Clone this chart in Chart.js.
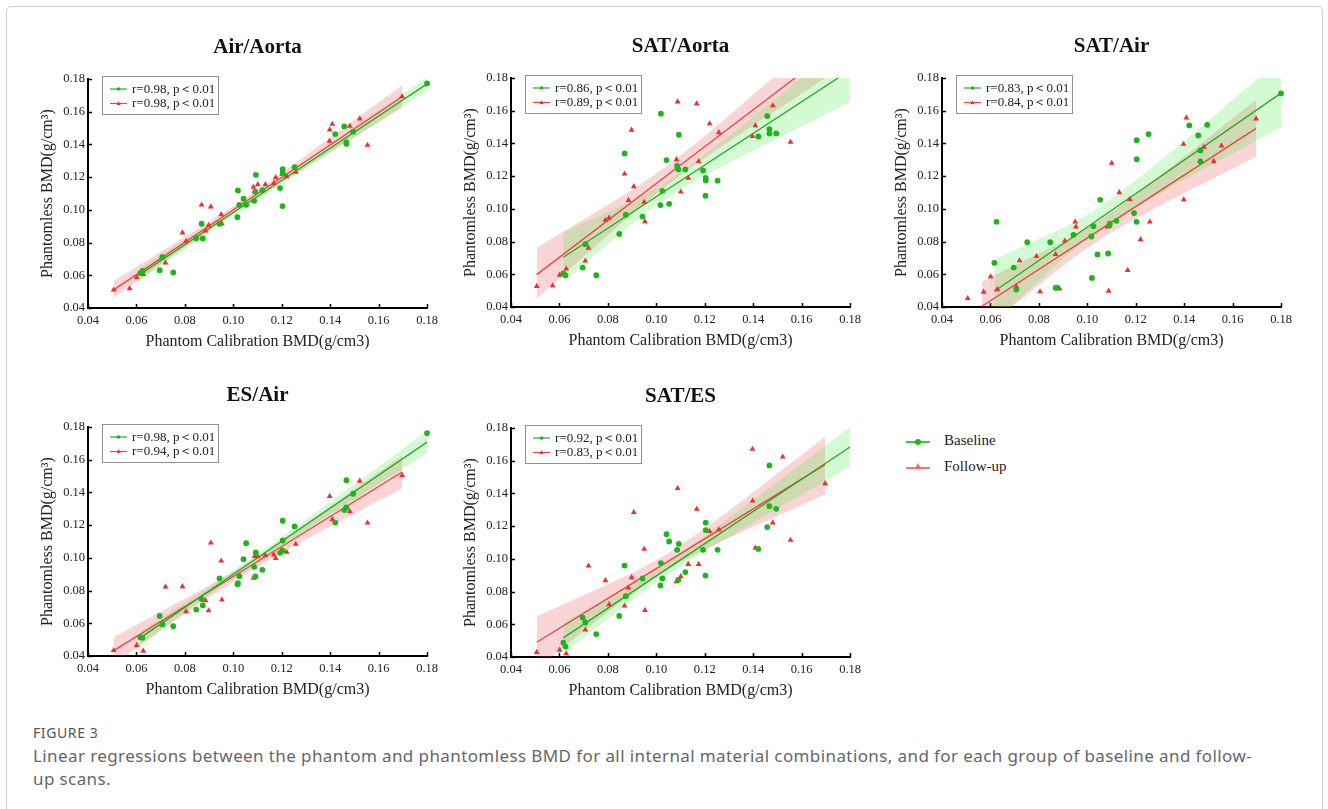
<!DOCTYPE html>
<html>
<head>
<meta charset="utf-8">
<script src="https://cdn.jsdelivr.net/npm/chart.js@4.4.0/dist/chart.umd.min.js"></script>
<style>
  html, body { margin: 0; padding: 0; background: #fff; }
  body { width: 1328px; height: 809px; position: relative; overflow: hidden; }
  .frame { position: absolute; left: 6px; top: 6px; width: 1315px; height: 840px;
           border: 1px solid #d2d2d2; border-radius: 5px; }
  canvas.panel { position: absolute; }
  .key { position: absolute; left: 906px; font: 15px "Liberation Serif", serif; color: #222; }
  .key .ln { position: absolute; left: 0; top: 0; width: 24px; height: 2px; }
  .key .txt { position: absolute; left: 38px; top: -9px; white-space: nowrap; }
  .dot { position: absolute; left: 9px; top: -2px; width: 6px; height: 6px; border-radius: 50%; }
  .tri { position: absolute; left: 9px; top: -4px; width: 0; height: 0;
         border-left: 3px solid transparent; border-right: 3px solid transparent; border-bottom: 6px solid #ff5f5f; }
  .caption { position: absolute; left: 33px; font-family: "Noto Sans", sans-serif; white-space: nowrap; }
  .fig { top: 723px; font-size: 14px; color: #555; letter-spacing: 0.6px; }
  .desc { top: 744px; font-size: 17px; line-height: 23px; color: #666; letter-spacing: 0.4px; }
</style>
</head>
<body>
<div class="frame"></div>
<canvas class="panel" id="p1" width="415" height="329" style="left:28px;top:29px"></canvas>
<canvas class="panel" id="p2" width="415" height="329" style="left:451px;top:28px"></canvas>
<canvas class="panel" id="p3" width="415" height="329" style="left:882px;top:28px"></canvas>
<canvas class="panel" id="p4" width="415" height="329" style="left:28px;top:377px"></canvas>
<canvas class="panel" id="p5" width="415" height="329" style="left:451px;top:378px"></canvas>

<div class="key" style="top:441px">
  <div class="ln" style="background:#3cc83c"></div><div class="dot" style="background:#22b522"></div>
  <div class="txt">Baseline</div>
</div>
<div class="key" style="top:467px">
  <div class="ln" style="background:#ff7373"></div><div class="tri"></div>
  <div class="txt">Follow-up</div>
</div>

<div class="caption fig">FIGURE 3</div>
<div class="caption desc">Linear regressions between the phantom and phantomless BMD for all internal material combinations, and for each group of baseline and follow-<br>up scans.</div>

<script>
const panelTitles = ["Air/Aorta", "SAT/Aorta", "SAT/Air", "ES/Air", "SAT/ES"];
const baselineR = ["r=0.98", "r=0.86", "r=0.83", "r=0.98", "r=0.92"];
const followUpR = ["r=0.98", "r=0.89", "r=0.84", "r=0.94", "r=0.83"];
const pText = "p＜0.01";
const tickValues = [0.04, 0.06, 0.08, 0.10, 0.12, 0.14, 0.16, 0.18];

// phantom calibration BMD (x), same subjects in every panel
const baselineX = [0.0616, 0.0625, 0.0696, 0.0707, 0.0752, 0.0847, 0.0869, 0.0874, 0.0943, 0.1017,
  0.1019, 0.1025, 0.1042, 0.1053, 0.1086, 0.1091, 0.1093, 0.1120, 0.1193, 0.1203,
  0.1204, 0.1204, 0.1253, 0.1421, 0.1458, 0.1467, 0.1467, 0.1495, 0.1800];
const followUpX = [0.0506, 0.0572, 0.0601, 0.0628, 0.0707, 0.0720, 0.0790, 0.0805, 0.0869, 0.0885,
  0.0898, 0.0907, 0.0950, 0.0953, 0.1083, 0.1088, 0.1101, 0.1132, 0.1167, 0.1175,
  0.1203, 0.1220, 0.1258, 0.1397, 0.1398, 0.1409, 0.1481, 0.1522, 0.1554, 0.1697];

// phantomless BMD (y) per panel
const airAortaBaseY = [0.0613, 0.0627, 0.0631, 0.0713, 0.0617, 0.0827, 0.0915, 0.0825, 0.0915, 0.0955,
  0.1119, 0.1031, 0.1068, 0.1031, 0.1055, 0.1112, 0.1214, 0.1121, 0.1133, 0.1023,
  0.1249, 0.1225, 0.1261, 0.1463, 0.1510, 0.1412, 0.1404, 0.1478, 0.1773];
const airAortaFollowY = [0.0511, 0.0519, 0.0588, 0.0606, 0.0707, 0.0676, 0.0860, 0.0809, 0.1031, 0.0872,
  0.0905, 0.1019, 0.0972, 0.0915, 0.1139, 0.1112, 0.1155, 0.1155, 0.1163, 0.1198,
  0.1219, 0.1204, 0.1231, 0.1420, 0.1490, 0.1524, 0.1512, 0.1557, 0.1396, 0.1692];

const satAortaBaseY = [0.0606, 0.0594, 0.0641, 0.0784, 0.0594, 0.0847, 0.1339, 0.0964, 0.0953, 0.1023,
  0.1582, 0.1110, 0.1298, 0.1031, 0.1263, 0.1241, 0.1453, 0.1241, 0.1235, 0.1080,
  0.1190, 0.1174, 0.1172, 0.1443, 0.1567, 0.1488, 0.1461, 0.1461, null];
const satAortaFollowY = [0.0527, 0.0531, 0.0596, 0.0633, 0.0682, 0.0761, 0.0931, 0.0945, 0.1214, 0.1053,
  0.1482, 0.1137, 0.1041, 0.0923, 0.1302, 0.1655, 0.1104, 0.1188, 0.1643, 0.1290,
  null, 0.1521, 0.1467, 0.1443, null, 0.1510, 0.1631, null, 0.1408, null];

const satAirBaseY = [0.0670, 0.0921, 0.0641, 0.0507, 0.0796, 0.0796, 0.0517, 0.0519, 0.0841, 0.0831,
  0.0578, 0.0894, 0.0721, 0.1055, 0.0727, 0.0898, 0.0909, 0.0927, 0.0974, 0.0921,
  0.1420, 0.1304, 0.1457, 0.1510, 0.1449, 0.1357, 0.1290, 0.1514, 0.1706];
const satAirFollowY = [0.0453, 0.0492, 0.0586, 0.0508, 0.0525, 0.0684, 0.0710, 0.0494, 0.0722, 0.0512,
  null, 0.0804, 0.0921, 0.0890, 0.0890, 0.0498, 0.1280, 0.1100, 0.0625, 0.1059,
  null, 0.0813, 0.0921, 0.1396, 0.1057, 0.1557, 0.1378, 0.1290, 0.1386, 0.1551];

const esAirBaseY = [0.0514, 0.0512, 0.0645, 0.0594, 0.0582, 0.0684, 0.0749, 0.0710, 0.0874, 0.0839,
  0.0845, 0.0888, 0.0992, 0.1090, 0.0945, 0.0886, 0.1033, 0.0927, 0.1031, 0.1045,
  0.1106, 0.1227, 0.1192, 0.1216, 0.1292, 0.1308, 0.1475, 0.1392, 0.1763];
const esAirFollowY = [0.0435, null, 0.0466, 0.0431, 0.0592, 0.0823, 0.0825, 0.0672, null, 0.0739,
  0.0678, 0.1092, 0.0982, 0.0743, 0.0876, 0.1010, 0.1008, 0.1015, 0.1019, 0.0998,
  null, 0.1035, 0.1084, null, 0.1376, 0.1235, 0.1284, 0.1470, 0.1214, 0.1504];

const satEsBaseY = [0.0488, 0.0464, 0.0641, 0.0611, 0.0540, 0.0651, 0.0959, 0.0772, 0.0880, 0.0837,
  0.0974, 0.0880, 0.1151, 0.1106, 0.1055, 0.0872, 0.1092, 0.0919, 0.1055, 0.0898,
  0.1221, 0.1176, 0.1055, 0.1061, 0.1194, 0.1571, 0.1322, 0.1306, null];
const satEsFollowY = [0.0429, null, 0.0443, 0.0421, 0.0566, 0.0957, 0.0868, 0.0721, 0.0713, 0.0823,
  0.0886, 0.1284, 0.1060, 0.0686, 0.0862, 0.1431, 0.0892, 0.0967, 0.1304, 0.0967,
  null, 0.1168, 0.1178, 0.1671, 0.1355, 0.1067, 0.1221, 0.1624, 0.1115, 0.1461];

// regression lines and 95% bands, read at start / centre / end of each fit
const baseBandX = [0.0616, 0.105, 0.18];
const followBandX = [0.0506, 0.105, 0.1697];
const satAirFollowBandX = [0.0565, 0.105, 0.1697];

const airAortaBaseFit = [0.0607, 0.1033, 0.1770];
const airAortaBaseHi = [0.0645, 0.1056, 0.1812];
const airAortaBaseLo = [0.0570, 0.1010, 0.1728];
const airAortaFollowFit = [0.0511, 0.1050, 0.1692];
const airAortaFollowHi = [0.0565, 0.1073, 0.1762];
const airAortaFollowLo = [0.0462, 0.1027, 0.1625];

const satAortaBaseFit = [0.0704, 0.1123, 0.1848];
const satAortaBaseHi = [0.0855, 0.1175, 0.2040];
const satAortaBaseLo = [0.0555, 0.1071, 0.1655];
const satAortaFollowFit = [0.0598, 0.1211, 0.1940];
const satAortaFollowHi = [0.0760, 0.1270, 0.2080];
const satAortaFollowLo = [0.0450, 0.1150, 0.1800];

const satAirBaseFit = [0.0496, 0.0940, 0.1708];
const satAirBaseHi = [0.0690, 0.1010, 0.1915];
const satAirBaseLo = [0.0310, 0.0870, 0.1500];
const satAirFollowFit = [0.0405, 0.0870, 0.1492];
const satAirFollowHi = [0.0555, 0.0930, 0.1667];
const satAirFollowLo = [0.0255, 0.0810, 0.1320];

const esAirBaseFit = [0.0511, 0.0950, 0.1708];
const esAirBaseHi = [0.0550, 0.0972, 0.1775];
const esAirBaseLo = [0.0472, 0.0928, 0.1641];
const esAirFollowFit = [0.0433, 0.0932, 0.1525];
const esAirFollowHi = [0.0515, 0.0962, 0.1625];
const esAirFollowLo = [0.0351, 0.0902, 0.1425];

const satEsBaseFit = [0.0517, 0.0945, 0.1684];
const satEsBaseHi = [0.0610, 0.0985, 0.1805];
const satEsBaseLo = [0.0425, 0.0905, 0.1565];
const satEsFollowFit = [0.0490, 0.0986, 0.1576];
const satEsFollowHi = [0.0647, 0.1036, 0.1745];
const satEsFollowLo = [0.0333, 0.0936, 0.1395];

const serif = "'Liberation Serif', 'Times New Roman', serif";
const pointGreen = "#1eb41e";
const pointRed = "#ee3030";
const lineGreen = "#25a825";
const lineRed = "#e8453f";
const bandGreen = "rgba(60, 230, 60, 0.22)";
const bandRed = "rgba(240, 80, 80, 0.24)";

const panels = [
  { id: "p1", base: [airAortaBaseY, airAortaBaseFit, airAortaBaseHi, airAortaBaseLo],
    follow: [airAortaFollowY, airAortaFollowFit, airAortaFollowHi, airAortaFollowLo], followBand: followBandX },
  { id: "p2", base: [satAortaBaseY, satAortaBaseFit, satAortaBaseHi, satAortaBaseLo],
    follow: [satAortaFollowY, satAortaFollowFit, satAortaFollowHi, satAortaFollowLo], followBand: followBandX },
  { id: "p3", base: [satAirBaseY, satAirBaseFit, satAirBaseHi, satAirBaseLo],
    follow: [satAirFollowY, satAirFollowFit, satAirFollowHi, satAirFollowLo], followBand: satAirFollowBandX },
  { id: "p4", base: [esAirBaseY, esAirBaseFit, esAirBaseHi, esAirBaseLo],
    follow: [esAirFollowY, esAirFollowFit, esAirFollowHi, esAirFollowLo], followBand: followBandX },
  { id: "p5", base: [satEsBaseY, satEsBaseFit, satEsBaseHi, satEsBaseLo],
    follow: [satEsFollowY, satEsFollowFit, satEsFollowHi, satEsFollowLo], followBand: followBandX }
];

function pairs(xs, ys) {
  const out = [];
  xs.forEach((x, i) => { if (ys[i] !== null) out.push({ x: x, y: ys[i] }); });
  return out;
}

// title, inner legend box and inward tick marks
function overlay(idx) {
  return {
    id: "overlay" + idx,
    afterDraw(chart) {
      const { ctx, chartArea, scales } = chart;
      const L = chartArea.left, T = chartArea.top;
      ctx.save();

      ctx.fillStyle = "#111";
      ctx.font = "bold 21px " + serif;
      ctx.textAlign = "center";
      ctx.textBaseline = "middle";
      ctx.fillText(panelTitles[idx], (chartArea.left + chartArea.right) / 2, T - 31);

      ctx.strokeStyle = "#000";
      ctx.lineWidth = 1.5;
      scales.x.ticks.forEach(t => {
        const px = Math.round(scales.x.getPixelForValue(t.value)) + 0.5;
        ctx.beginPath(); ctx.moveTo(px, chartArea.bottom); ctx.lineTo(px, chartArea.bottom - 4); ctx.stroke();
      });
      scales.y.ticks.forEach(t => {
        const py = Math.round(scales.y.getPixelForValue(t.value)) + 0.5;
        ctx.beginPath(); ctx.moveTo(chartArea.left, py); ctx.lineTo(chartArea.left + 4, py); ctx.stroke();
      });

      ctx.fillStyle = "#fff";
      ctx.fillRect(L + 14, T - 3, 116, 38);
      ctx.strokeStyle = "#8f8f8f";
      ctx.lineWidth = 1;
      ctx.strokeRect(L + 14.5, T - 2.5, 116, 38);
      const rows = [
        { y: T + 10, color: lineGreen, mark: pointGreen, tri: false, text: baselineR[idx] + ", " + pText },
        { y: T + 24.5, color: lineRed, mark: pointRed, tri: true, text: followUpR[idx] + ", " + pText }
      ];
      rows.forEach(r => {
        ctx.strokeStyle = r.color;
        ctx.lineWidth = 1.2;
        ctx.beginPath(); ctx.moveTo(L + 22, r.y); ctx.lineTo(L + 39, r.y); ctx.stroke();
        ctx.fillStyle = r.mark;
        ctx.beginPath();
        if (r.tri) {
          ctx.moveTo(L + 30.5, r.y - 2.2); ctx.lineTo(L + 32.5, r.y + 1.5); ctx.lineTo(L + 28.5, r.y + 1.5);
          ctx.closePath();
        } else {
          ctx.arc(L + 30.5, r.y, 1.8, 0, Math.PI * 2);
        }
        ctx.fill();
        ctx.fillStyle = "#222";
        ctx.font = "13px " + serif;
        ctx.textAlign = "left";
        ctx.fillText(r.text, L + 44, r.y + 0.5);
      });
      ctx.restore();
    }
  };
}

function axis(titleText, horizontal) {
  return {
    type: "linear",
    min: 0.04,
    max: 0.18,
    afterBuildTicks: s => { s.ticks = tickValues.map(v => ({ value: v })); },
    afterFit: s => { if (horizontal) s.height = 50; else s.width = 60; },
    grid: { display: false, drawTicks: false },
    border: { display: true, color: "#000", width: 2 },
    ticks: {
      color: "#222",
      padding: horizontal ? 5 : 3,
      font: { family: serif, size: 12.5 },
      callback: v => v.toFixed(2)
    },
    title: {
      display: true,
      text: titleText,
      color: "#222",
      font: { family: serif, size: 16 },
      padding: horizontal ? { top: 0, bottom: 7 } : { top: 10, bottom: 0 }
    }
  };
}

panels.forEach((p, idx) => {
  const [baseY, baseFit, baseHi, baseLo] = p.base;
  const [followY, followFit, followHi, followLo] = p.follow;
  const bandLine = { showLine: true, pointRadius: 0, borderWidth: 0, tension: 0.3 };
  new Chart(document.getElementById(p.id), {
    type: "scatter",
    data: {
      datasets: [
        { label: "Baseline", data: pairs(baselineX, baseY), pointStyle: "circle", pointRadius: 2.9,
          backgroundColor: pointGreen, borderWidth: 0, clip: false },
        { label: "Follow-up", data: pairs(followUpX, followY), pointStyle: "triangle", pointRadius: 3.4,
          backgroundColor: pointRed, borderWidth: 0, clip: false },
        { data: pairs(baseBandX, baseFit), showLine: true, pointRadius: 0, borderColor: lineGreen, borderWidth: 1.3 },
        { data: pairs(p.followBand, followFit), showLine: true, pointRadius: 0, borderColor: lineRed, borderWidth: 1.3 },
        Object.assign({ data: pairs(baseBandX, baseHi), fill: "+1", backgroundColor: bandGreen }, bandLine),
        Object.assign({ data: pairs(baseBandX, baseLo), fill: false }, bandLine),
        Object.assign({ data: pairs(p.followBand, followHi), fill: "+1", backgroundColor: bandRed }, bandLine),
        Object.assign({ data: pairs(p.followBand, followLo), fill: false }, bandLine)
      ]
    },
    options: {
      responsive: false,
      animation: false,
      layout: { padding: { top: 50, right: 12, left: 0, bottom: 0 } },
      plugins: { legend: { display: false }, tooltip: { enabled: false } },
      scales: {
        x: axis("Phantom Calibration BMD(g/cm3)", true),
        y: axis("Phantomless BMD(g/cm³)", false)
      }
    },
    plugins: [overlay(idx)]
  });
});
</script>
</body>
</html>
